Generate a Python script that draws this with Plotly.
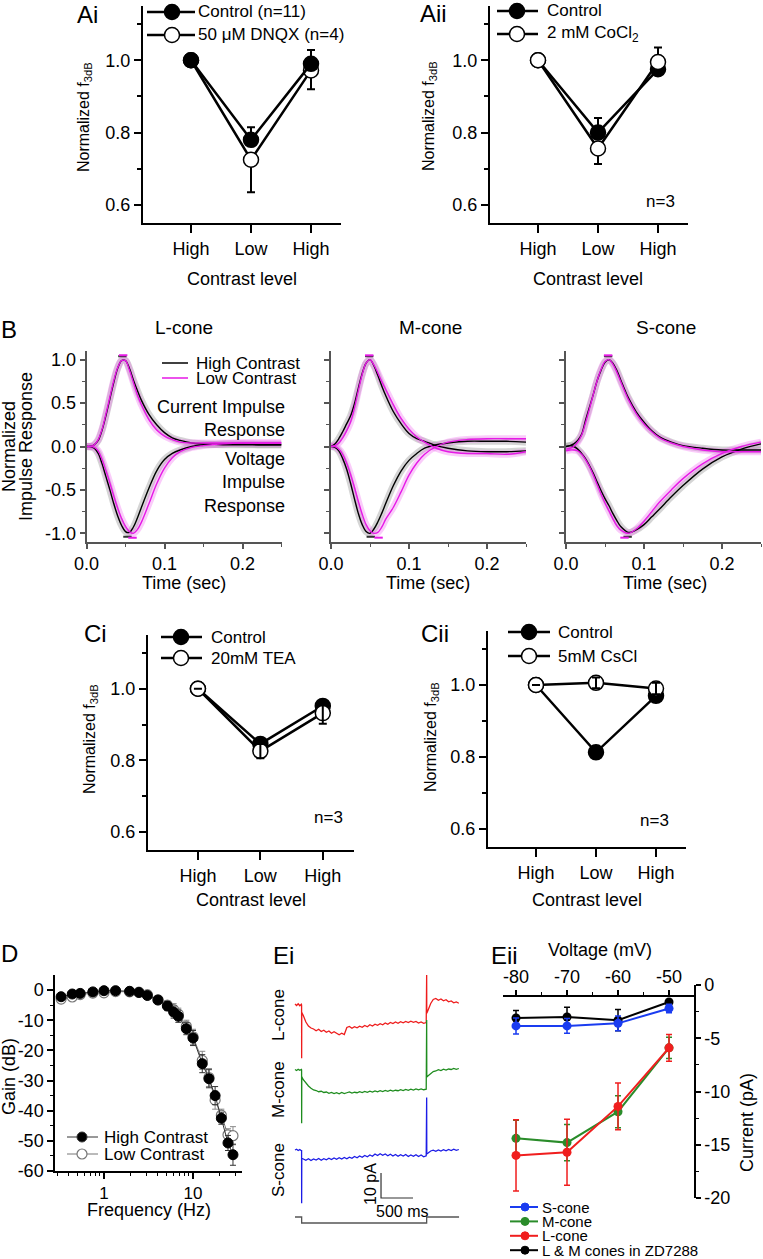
import plotly.graph_objects as go

W, H = 763, 1259
FONT = "Liberation Sans, Arial, Helvetica, sans-serif"

# ---------------- data ----------------
contrast_cats = [1, 2, 3]
contrast_labels = ["High", "Low", "High"]

ai_control = [1.0, 0.78, 0.99]
ai_control_err = [0.0, 0.035, 0.038]
ai_dnqx = [1.0, 0.725, 0.972]
ai_dnqx_err = [0.0, 0.09, 0.052]

aii_control = [1.0, 0.80, 0.975]
aii_control_err = [0.0, 0.04, 0.0]
aii_cocl2 = [1.0, 0.756, 0.995]
aii_cocl2_err_plus = [0.0, 0.0, 0.04]
aii_cocl2_err_minus = [0.0, 0.043, 0.0]

ci_control = [1.0, 0.846, 0.952]
ci_tea = [1.0, 0.826, 0.932]
ci_tea_err = [0.0, 0.02, 0.03]

cii_control = [1.0, 0.813, 0.97]
cii_cscl = [1.0, 1.006, 0.99]
cii_cscl_err = [0.0, 0.015, 0.016]

# impulse responses (time in s)
b_t = [0, 0.005, 0.01, 0.015, 0.02, 0.025, 0.03, 0.035, 0.04, 0.045, 0.05, 0.055, 0.06,
       0.065, 0.07, 0.08, 0.09, 0.1, 0.11, 0.12, 0.135, 0.15, 0.175, 0.2, 0.225, 0.25]
bl_cur_hi = [0, 0, 0.02, 0.07, 0.19, 0.36, 0.55, 0.74, 0.9, 0.99, 0.99, 0.9, 0.77, 0.65, 0.54,
             0.37, 0.25, 0.16, 0.1, 0.07, 0.04, 0.03, 0.02, 0.02, 0.02, 0.02]
bl_cur_lo = [0, 0, 0.02, 0.08, 0.2, 0.38, 0.57, 0.76, 0.91, 0.99, 0.99, 0.88, 0.74, 0.6, 0.49,
             0.31, 0.19, 0.12, 0.08, 0.05, 0.04, 0.04, 0.04, 0.04, 0.04, 0.04]
bl_volt_hi = [0, 0, -0.02, -0.08, -0.2, -0.35, -0.5, -0.66, -0.8, -0.91, -0.98, -0.99, -0.93,
              -0.83, -0.71, -0.48, -0.28, -0.15, -0.08, -0.04, 0.0, 0.02, 0.03, 0.03, 0.02, 0.02]
bl_volt_lo = [0, 0, -0.01, -0.05, -0.15, -0.28, -0.42, -0.57, -0.71, -0.83, -0.92, -0.98, -1.0,
              -0.96, -0.88, -0.66, -0.43, -0.25, -0.13, -0.06, -0.01, 0.01, 0.03, 0.04, 0.04, 0.04]

bm_cur_hi = [0, 0.03, 0.09, 0.17, 0.26, 0.35, 0.49, 0.67, 0.84, 0.96, 1.0, 0.93, 0.82, 0.7, 0.59,
             0.4, 0.26, 0.15, 0.09, 0.06, 0.01, -0.02, -0.05, -0.06, -0.06, -0.05]
bm_cur_lo = [0, 0.01, 0.04, 0.1, 0.18, 0.28, 0.44, 0.64, 0.83, 0.96, 1.0, 0.94, 0.85, 0.75, 0.66,
             0.48, 0.32, 0.2, 0.11, 0.05, -0.02, -0.06, -0.08, -0.08, -0.09, -0.06]
bm_volt_hi = [0, -0.01, -0.05, -0.14, -0.26, -0.42, -0.6, -0.77, -0.9, -0.98, -1.0, -0.95, -0.87,
              -0.77, -0.66, -0.45, -0.28, -0.16, -0.08, -0.02, 0.02, 0.04, 0.06, 0.06, 0.06, 0.05]
bm_volt_lo = [0, 0, -0.03, -0.09, -0.19, -0.32, -0.47, -0.63, -0.78, -0.9, -0.97, -1.0, -0.99,
              -0.93, -0.84, -0.7, -0.52, -0.33, -0.19, -0.09, 0.0, 0.05, 0.08, 0.09, 0.09, 0.09]

bs_cur_hi = [0, 0.01, 0.03, 0.07, 0.14, 0.3, 0.45, 0.6, 0.76, 0.88, 0.97, 1.0, 0.96, 0.88, 0.77,
             0.56, 0.4, 0.28, 0.18, 0.11, 0.05, 0.01, -0.02, -0.04, -0.04, -0.04]
bs_cur_lo = [-0.03, -0.02, 0.0, 0.05, 0.13, 0.27, 0.43, 0.6, 0.76, 0.89, 0.98, 1.0, 0.95, 0.86,
             0.75, 0.54, 0.38, 0.26, 0.17, 0.1, 0.04, 0.0, -0.04, -0.06, -0.06, -0.06]
bs_volt_hi = [0, 0.01, 0.0, -0.03, -0.08, -0.14, -0.22, -0.31, -0.41, -0.51, -0.6, -0.68, -0.77,
              -0.85, -0.92, -0.99, -0.96, -0.9, -0.81, -0.72, -0.58, -0.45, -0.26, -0.12, -0.03, 0.03]
bs_volt_lo = [-0.05, -0.04, -0.04, -0.05, -0.09, -0.15, -0.23, -0.33, -0.44, -0.55, -0.65, -0.74,
              -0.83, -0.91, -0.96, -1.0, -0.95, -0.86, -0.75, -0.64, -0.5, -0.37, -0.2, -0.08, 0.0, 0.05]

# time-to-peak markers [current peak, voltage peak]
b_peak_hi = {"L": [0.046, 0.0525], "M": [0.049, 0.051], "S": [0.054, 0.079]}
b_peak_lo = {"L": [0.047, 0.059], "M": [0.049, 0.061], "S": [0.054, 0.075]}

# D: gain vs frequency
d_freq = [0.33, 0.44, 0.54, 0.75, 1.0, 1.35, 1.94, 2.47, 3.07, 4.04, 5.15, 6.06, 6.84, 8.41,
          10.0, 12.7, 15.1, 17.7, 20.8, 24.7, 28.1]
d_high = [-2.2, -1.3, -1.1, -0.6, -0.2, -0.2, -0.4, -0.8, -1.8, -3.3, -5.3, -7.3, -8.7, -12.8,
          -15.9, -24.4, -29.4, -35.0, -42.5, -50.7, -54.6]
d_high_err = [0.5, 0.5, 0.5, 0.5, 0.5, 0.5, 0.5, 0.6, 0.8, 1.0, 1.5, 2.0, 2.0, 2.0, 2.5, 3.0,
              3.0, 3.0, 2.0, 2.5, 3.5]
d_low = [-3.0, -2.3, -1.5, -1.0, -0.9, -0.5, -0.6, -0.7, -1.5, -3.2, -5.0, -6.5, -8.0, -12.0,
         -15.5, -23.3, -29.0, -36.5, -41.5, -48.0, -48.3]
d_low_err = [0.5, 0.5, 0.5, 0.5, 0.5, 0.5, 0.5, 0.5, 0.7, 1.0, 1.5, 2.0, 2.0, 2.0, 2.5, 3.0,
             3.0, 3.0, 2.0, 2.0, 3.0]

# Ei: current traces (ms, pA relative to baseline)
ei_t = [0, 25, 50, 75, 100, 103, 104, 106,
        130, 170, 210, 250, 290, 330, 370, 410, 450, 490, 530, 570, 610, 650, 690, 730, 770,
        810, 850, 890, 930, 970, 1010, 1050, 1090, 1130, 1170, 1210, 1250, 1290, 1330, 1370,
        1410, 1450, 1490, 1530, 1570, 1610, 1650, 1690, 1730, 1770, 1810, 1850, 1890, 1930,
        1970, 2010, 2050, 2057, 2059,
        2080, 2120, 2160, 2200, 2240, 2280, 2320, 2360, 2400, 2440, 2480, 2520, 2560]
ei_L = [0.4, -0.2, 0.5, -0.3, 0.3, 0.0, -21.3, -3.0,
        -4.2, -6.8, -8.4, -9.2, -9.6, -10.3, -9.7, -10.6, -10.1, -10.9, -10.4, -11.3, -10.7,
        -11.4, -11.9, -11.3, -11.8, -9.0, -8.6, -9.3, -8.7, -9.1, -8.5, -8.9, -8.2, -8.7, -7.9,
        -8.4, -7.7, -8.1, -7.5, -7.9, -7.2, -7.7, -7.0, -7.4, -6.8, -7.3, -6.7, -7.1, -6.6,
        -7.0, -6.5, -6.9, -6.6, -7.2, -6.8, -7.3, -7.0, 12.0, -3.3,
        -2.0, 0.6, 2.2, 2.6, 1.9, 2.4, 1.7, 2.1, 1.3, 1.6, 0.9, 1.2, 0.7]
ei_M = [0.2, -0.2, 0.3, -0.1, 0.2, 0.0, -21.3, -2.7,
        -3.9, -5.2, -6.4, -7.3, -8.0, -8.2, -8.7, -8.5, -9.0, -8.8, -9.3, -9.0, -9.4, -9.1,
        -9.5, -9.0, -9.4, -9.1, -8.8, -9.2, -8.9, -9.1, -8.7, -9.0, -8.6, -8.9, -8.5, -8.8,
        -8.4, -8.7, -8.3, -8.6, -8.2, -8.5, -8.1, -8.4, -8.1, -8.3, -7.9, -8.2, -7.8, -8.1,
        -7.7, -8.0, -7.6, -7.9, -7.6, -7.9, -7.7, 20.0, -2.8,
        -2.3, -1.4, -0.6, -0.4, 0.1, -0.2, 0.3, 0.0, 0.4, 0.2, 0.6, 0.3, 0.6]
ei_S = [0.0, 0.3, -0.2, 0.2, -0.3, 0.0, -21.3, -3.3,
        -3.6, -4.1, -3.5, -4.2, -3.6, -4.0, -3.4, -4.1, -3.5, -3.9, -3.3, -3.8, -3.2, -3.7,
        -3.1, -3.6, -3.0, -3.5, -2.9, -3.3, -2.6, -3.1, -2.4, -2.9, -2.2, -2.7, -2.0, -2.5,
        -1.6, -2.2, -1.5, -2.1, -1.6, -2.3, -1.7, -2.4, -1.8, -2.5, -1.9, -2.4, -1.8, -2.6,
        -2.0, -2.5, -1.9, -2.6, -2.0, -2.7, -2.3, 21.0, -1.6,
        -1.2, -0.4, -0.1, -0.5, 0.0, -0.4, 0.1, -0.3, 0.2, -0.2, 0.3, -0.1, 0.2]
ei_stim_t = [0, 104, 104, 2057, 2057, 2563]
ei_stim = [0, 0, -1, -1, 0, 0]
scale_pa = 10
scale_ms = 500

# Eii: I-V
eii_v = [-80, -70, -60, -50]
eii_S = [-3.84, -3.84, -3.6, -2.2]
eii_S_err = [0.75, 0.7, 0.7, 0.4]
eii_M = [-14.4, -14.8, -11.9, -5.9]
eii_M_err = [1.7, 1.7, 1.5, 1.0]
eii_L = [-16.0, -15.7, -11.4, -5.9]
eii_L_err = [3.35, 3.1, 2.2, 1.25]
eii_ZD = [-3.1, -3.0, -3.3, -1.6]
eii_ZD_err = [0.7, 0.9, 1.0, 0.2]

# ---------------- helpers ----------------
def px_x(x):
    return x / W

def px_y(y):
    return 1 - y / H

def dom_x(a, b):
    return [a / W, b / W]

def dom_y(top, bot):
    return [1 - bot / H, 1 - top / H]

def axref(n):
    return ("x" if n == 1 else f"x{n}"), ("y" if n == 1 else f"y{n}")

def axkey(n):
    return ("xaxis" if n == 1 else f"xaxis{n}"), ("yaxis" if n == 1 else f"yaxis{n}")

fig = go.Figure()
layout = {}
shapes = []
annotations = []

def ann(x, y, text, size=18, xanchor="center", yanchor="middle", angle=0, align="center", color="black"):
    annotations.append(dict(x=px_x(x), y=px_y(y), xref="paper", yref="paper", text=text,
                            showarrow=False, font=dict(size=size, family=FONT, color=color),
                            xanchor=xanchor, yanchor=yanchor, textangle=angle, align=align))

def hline(x0, x1, y, color, width):
    shapes.append(dict(type="line", xref="paper", yref="paper", x0=px_x(x0), x1=px_x(x1),
                       y0=px_y(y), y1=px_y(y), line=dict(color=color, width=width), layer="above"))

def circ(x, y, size, fill, lc, lw):
    r = size / 2
    shapes.append(dict(type="circle", xref="paper", yref="paper", xsizemode="pixel",
                       ysizemode="pixel", xanchor=px_x(x), yanchor=px_y(y), x0=-r, x1=r,
                       y0=-r, y1=r, fillcolor=fill, line=dict(color=lc, width=lw), layer="above"))

def legend_item(xl0, xl1, xm, y, xt, text, fill, lc="black", lw=2.5, msize=15, mlw=1.5, size=17):
    hline(xl0, xl1, y, lc, lw)
    circ(xm, y, msize, fill, lc, mlw)
    ann(xt, y, text, size=size, xanchor="left")

def contrast_axes(n, x0, x1, ytop, ybot):
    xr, yr = axref(n)
    xk, yk = axkey(n)
    layout[xk] = dict(domain=dom_x(x0, x1), range=[0.2, 3.5], anchor=yr, tickvals=contrast_cats,
                      ticktext=contrast_labels, showline=True, linecolor="black", linewidth=2,
                      ticks="outside", ticklen=8, tickwidth=2, tickcolor="black", showgrid=False,
                      zeroline=False, tickfont=dict(size=18, family=FONT))
    layout[yk] = dict(domain=dom_y(ytop, ybot), range=[0.55, 1.15], anchor=xr,
                      tickvals=[0.6, 0.8, 1.0], ticktext=["0.6", "0.8", "1.0"], showline=True,
                      linecolor="black", linewidth=2, ticks="outside", ticklen=7, tickwidth=2,
                      tickcolor="black", showgrid=False, zeroline=False,
                      tickfont=dict(size=18, family=FONT),
                      minor=dict(tickvals=[0.7, 0.9, 1.1], ticks="outside", ticklen=4,
                                 tickwidth=2, tickcolor="black", showgrid=False))

def contrast_trace(n, y, filled, err_plus=None, err_minus=None, err_only=False):
    xr, yr = axref(n)
    kw = dict(x=contrast_cats, y=y, xaxis=xr, yaxis=yr)
    if err_plus is not None or err_minus is not None:
        kw["error_y"] = dict(type="data", symmetric=False,
                             array=err_plus if err_plus is not None else [0, 0, 0],
                             arrayminus=err_minus if err_minus is not None else [0, 0, 0],
                             color="black", thickness=2, width=4)
    if err_only:
        fig.add_trace(go.Scatter(mode="markers", marker=dict(size=1, color="rgba(0,0,0,0)"), **kw))
    else:
        fig.add_trace(go.Scatter(mode="lines+markers", line=dict(color="black", width=2.5),
                                 marker=dict(size=15, color="black" if filled else "white",
                                             line=dict(color="black", width=1.5)), **kw))

# ---------------- A panels ----------------
contrast_axes(1, 143, 341, 6, 223)
contrast_trace(1, ai_dnqx, False, err_minus=ai_dnqx_err)
contrast_trace(1, ai_control, True, err_plus=ai_control_err)

contrast_axes(2, 490, 688, 6, 223)
contrast_trace(2, aii_control, True, err_plus=aii_control_err)
contrast_trace(2, aii_cocl2, False, err_plus=aii_cocl2_err_plus, err_minus=aii_cocl2_err_minus)

# ---------------- C panels ----------------
contrast_axes(6, 148, 354, 635, 850)
contrast_trace(6, ci_control, True)
contrast_trace(6, ci_tea, False)
contrast_trace(6, ci_tea, False, err_plus=ci_tea_err, err_minus=ci_tea_err, err_only=True)

contrast_axes(7, 488, 686, 631, 847)
contrast_trace(7, cii_control, True)
contrast_trace(7, cii_cscl, False)
contrast_trace(7, cii_cscl, False, err_plus=cii_cscl_err, err_minus=cii_cscl_err, err_only=True)

# ---------------- B panels ----------------
MAG = "#e619e6"
b_sets = {
    "L": (3, 86.5, 281.5, bl_cur_hi, bl_cur_lo, bl_volt_hi, bl_volt_lo),
    "M": (4, 331, 526, bm_cur_hi, bm_cur_lo, bm_volt_hi, bm_volt_lo),
    "S": (5, 566, 761, bs_cur_hi, bs_cur_lo, bs_volt_hi, bs_volt_lo),
}
for key, (n, x0, x1, ch, cl, vh, vl) in b_sets.items():
    xr, yr = axref(n)
    xk, yk = axkey(n)
    layout[xk] = dict(domain=dom_x(x0, x1), range=[0, 0.25], anchor=yr, tickvals=[0, 0.1, 0.2],
                      ticktext=["0.0", "0.1", "0.2"], showline=True, linecolor="#555",
                      linewidth=1.5, ticks="outside", ticklen=5, tickwidth=1.5, tickcolor="#555",
                      showgrid=False, zeroline=False, tickfont=dict(size=18, family=FONT),
                      minor=dict(tickvals=[0.05, 0.15, 0.25], ticks="outside", ticklen=3,
                                 tickwidth=1.2, tickcolor="#555", showgrid=False))
    layout[yk] = dict(domain=dom_y(351, 542), range=[-1.1, 1.1], anchor=xr,
                      tickvals=[-1, -0.5, 0, 0.5, 1],
                      ticktext=["-1.0", "-0.5", "0.0", "0.5", "1.0"], showticklabels=(key == "L"),
                      showline=True, linecolor="#555", linewidth=1.5, ticks="outside", ticklen=5,
                      tickwidth=1.5, tickcolor="#555", showgrid=False, zeroline=False,
                      tickfont=dict(size=18, family=FONT),
                      minor=dict(tickvals=[-0.75, -0.25, 0.25, 0.75], ticks="outside", ticklen=3,
                                 tickwidth=1.2, tickcolor="#555", showgrid=False))
    for ys in (ch, vh):
        fig.add_trace(go.Scatter(x=b_t, y=ys, xaxis=xr, yaxis=yr, mode="lines",
                                 line=dict(color="rgba(150,150,150,0.4)", width=7, shape="spline")))
    for ys in (cl, vl):
        fig.add_trace(go.Scatter(x=b_t, y=ys, xaxis=xr, yaxis=yr, mode="lines",
                                 line=dict(color="rgba(240,110,240,0.35)", width=7, shape="spline")))
    for ys in (ch, vh):
        fig.add_trace(go.Scatter(x=b_t, y=ys, xaxis=xr, yaxis=yr, mode="lines",
                                 line=dict(color="black", width=1.4, shape="spline")))
    for ys in (cl, vl):
        fig.add_trace(go.Scatter(x=b_t, y=ys, xaxis=xr, yaxis=yr, mode="lines",
                                 line=dict(color=MAG, width=1.4, shape="spline")))
    fig.add_trace(go.Scatter(x=b_peak_hi[key], y=[1.04, -1.04], xaxis=xr, yaxis=yr, mode="markers",
                             marker=dict(symbol="line-ew", size=6, line=dict(color="#333", width=2))))
    fig.add_trace(go.Scatter(x=b_peak_lo[key], y=[1.05, -1.05], xaxis=xr, yaxis=yr, mode="markers",
                             marker=dict(symbol="line-ew", size=6, line=dict(color=MAG, width=2))))

# ---------------- D ----------------
layout["xaxis8"] = dict(domain=dom_x(55, 242), type="log", range=[-0.55, 1.55], anchor="y8",
                        tickvals=[1, 10], ticktext=["1", "10"], showline=True, linecolor="black",
                        linewidth=1.5, ticks="outside", ticklen=6, tickwidth=1.5, tickcolor="black",
                        showgrid=False, zeroline=False, tickfont=dict(size=17, family=FONT),
                        minor=dict(tickvals=[0.3, 0.4, 0.5, 0.6, 0.7, 0.8, 0.9, 2, 3, 4, 5, 6, 7,
                                             8, 9, 20, 30], ticks="outside", ticklen=3,
                                   tickwidth=1.2, tickcolor="black", showgrid=False))
layout["yaxis8"] = dict(domain=dom_y(975, 1171), range=[-60, 5], anchor="x8",
                        tickvals=[-60, -50, -40, -30, -20, -10, 0],
                        ticktext=["-60", "-50", "-40", "-30", "-20", "-10", "0"], showline=True,
                        linecolor="black", linewidth=1.5, ticks="outside", ticklen=6,
                        tickwidth=1.5, tickcolor="black", showgrid=False, zeroline=False,
                        tickfont=dict(size=18, family=FONT),
                        minor=dict(tickvals=[-55, -45, -35, -25, -15, -5], ticks="outside",
                                   ticklen=3, tickwidth=1.2, tickcolor="black", showgrid=False))
fig.add_trace(go.Scatter(x=d_freq, y=d_low, xaxis="x8", yaxis="y8", mode="lines+markers",
                         line=dict(color="#777", width=1),
                         marker=dict(size=10, color="white", line=dict(color="#777", width=1.2)),
                         error_y=dict(type="data", array=d_low_err, color="#888", thickness=1,
                                      width=3)))
fig.add_trace(go.Scatter(x=d_freq, y=d_high, xaxis="x8", yaxis="y8", mode="lines+markers",
                         line=dict(color="#333", width=1),
                         marker=dict(size=10, color="black", line=dict(color="black", width=1)),
                         error_y=dict(type="data", array=d_high_err, color="#333", thickness=1,
                                      width=3)))

# ---------------- Ei ----------------
EI_RANGE_Y = [0, 112]
ei_offsets = {"L": 90, "M": 64, "S": 32}
stim_base, stim_step = 5.2, 2.4
layout["xaxis9"] = dict(domain=dom_x(290, 470), range=[-78, 2734], anchor="y9", visible=False)
layout["yaxis9"] = dict(domain=dom_y(950, 1230), range=EI_RANGE_Y, anchor="x9", visible=False)
for trace, col, key in ((ei_L, "#ee1c1c", "L"), (ei_M, "#1e8c1e", "M"), (ei_S, "#1c1ce6", "S")):
    fig.add_trace(go.Scatter(x=ei_t, y=[v + ei_offsets[key] for v in trace], xaxis="x9",
                             yaxis="y9", mode="lines", line=dict(color=col, width=1.3)))
fig.add_trace(go.Scatter(x=ei_stim_t, y=[stim_base + s * stim_step for s in ei_stim], xaxis="x9",
                         yaxis="y9", mode="lines", line=dict(color="#555", width=1.3)))
sb_t0, sb_v0 = 1344, 12.8
fig.add_trace(go.Scatter(x=[sb_t0, sb_t0, sb_t0 + scale_ms], y=[sb_v0 + scale_pa, sb_v0, sb_v0],
                         xaxis="x9", yaxis="y9", mode="lines", line=dict(color="#333", width=1.2)))

# ---------------- Eii ----------------
layout["xaxis10"] = dict(domain=dom_x(503, 694), range=[-82.55, -45.1], anchor="free",
                         position=px_y(995.7), side="top", tickvals=eii_v,
                         ticktext=["-80", "-70", "-60", "-50"], showline=True, linecolor="black",
                         linewidth=1.5, ticks="outside", ticklen=5, tickwidth=1.5,
                         tickcolor="black", showgrid=False, zeroline=False,
                         tickfont=dict(size=18, family=FONT),
                         minor=dict(tickvals=[-75, -65, -55], ticks="outside", ticklen=3,
                                    tickwidth=1.2, tickcolor="black", showgrid=False))
layout["yaxis10"] = dict(domain=dom_y(985, 1198), range=[-20, 0], anchor="x10", side="right",
                         tickvals=[0, -5, -10, -15, -20],
                         ticktext=["0", "-5", "-10", "-15", "-20"], showline=True,
                         linecolor="black", linewidth=1.5, ticks="outside", ticklen=5,
                         tickwidth=1.5, tickcolor="black", showgrid=False, zeroline=False,
                         tickfont=dict(size=18, family=FONT),
                         minor=dict(tickvals=[-2.5, -7.5, -12.5, -17.5], ticks="outside",
                                    ticklen=3, tickwidth=1.2, tickcolor="black", showgrid=False))
EII_COLORS = {"ZD": "black", "S": "#1a3cf0", "M": "#2a8c2a", "L": "#f01e1e"}
for key, ys, es in (("ZD", eii_ZD, eii_ZD_err), ("S", eii_S, eii_S_err),
                    ("M", eii_M, eii_M_err), ("L", eii_L, eii_L_err)):
    c = EII_COLORS[key]
    fig.add_trace(go.Scatter(x=eii_v, y=ys, xaxis="x10", yaxis="y10", mode="lines+markers",
                             line=dict(color=c, width=2), marker=dict(size=9, color=c),
                             error_y=dict(type="data", array=es, color=c, thickness=1.5, width=3)))

# no automatic margin growth anywhere
for k in list(layout):
    if k.startswith("xaxis") or k.startswith("yaxis"):
        layout[k]["automargin"] = False

# ---------------- legends (manual) ----------------
legend_item(147, 195, 172, 12, 196, "Control (n=11)", "black")
legend_item(147, 195, 172, 35, 196, "50 \u03bcM DNQX (n=4)", "white")
legend_item(497, 538, 517, 11, 545, "Control", "black")
legend_item(497, 538, 517, 34, 545, "2 mM CoCl<sub>2</sub>", "white")
legend_item(161, 202, 181, 637, 209, "Control", "black")
legend_item(161, 202, 181, 658, 209, "20mM TEA", "white")
legend_item(508, 550, 529, 632, 556, "Control", "black")
legend_item(508, 550, 529, 656, 556, "5mM CsCl", "white")
legend_item(67, 98, 82, 1137, 102, "High Contrast", "black", lc="#333", lw=1, msize=10, mlw=1)
legend_item(67, 98, 82, 1154, 102, "Low Contrast", "white", lc="#777", lw=1, msize=10, mlw=1.2)
for i, (key, label) in enumerate((("S", "S-cone"), ("M", "M-cone"), ("L", "L-cone"),
                                  ("ZD", "L &amp; M cones in ZD7288"))):
    yy = 1207 + i * 14.4
    legend_item(510, 538, 525, yy, 540, label, EII_COLORS[key], lc=EII_COLORS[key], lw=2,
                msize=8, mlw=1, size=15)
# B legend
hline(162, 188, 363, "black", 1.5)
ann(194, 363, "High Contrast", size=17, xanchor="left")
hline(162, 188, 378, MAG, 1.5)
ann(194, 378, "Low Contrast", size=17, xanchor="left")

# ---------------- text ----------------
for x, y, t in ((87, 14, "Ai"), (433, 13, "Aii"), (9, 330, "B"), (95, 633, "Ci"),
                (435, 633, "Cii"), (9, 953, "D"), (283, 955, "Ei"), (505, 955, "Eii")):
    ann(x, y, t, size=24)
ylab = "Normalized f<sub>3dB</sub>"
ann(85, 117, ylab, size=16, angle=-90)
ann(430, 116, ylab, size=16, angle=-90)
ann(90, 739, ylab, size=16, angle=-90)
ann(431, 737, ylab, size=16, angle=-90)
for x, y in ((242, 279), (588, 279), (251, 900), (587, 900)):
    ann(x, y, "Contrast level")
for x, y in ((660, 202), (328, 817), (654, 820)):
    ann(x, y, "n=3", size=17)
for x, t in ((184, "L-cone"), (430, "M-cone"), (666, "S-cone")):
    ann(x, 327, t, size=19)
for x in (184, 428, 665):
    ann(x, 583, "Time (sec)")
ann(9, 447, "Normalized", angle=-90)
ann(26, 447, "Impulse Response", angle=-90)
ann(287, 418, "Current Impulse<br>Response", xanchor="right", align="right")
ann(287, 482, "Voltage<br>Impulse<br>Response", xanchor="right", align="right")
ann(9, 1077, "Gain (dB)", angle=-90)
ann(149, 1210, "Frequency (Hz)")
ann(278, 1015, "L-cone", angle=-90, size=17)
ann(278, 1090, "M-cone", angle=-90, size=17)
ann(278, 1170, "S-cone", angle=-90, size=17)
ann(370, 1184, "10 pA", angle=-90, size=16)
ann(402, 1211, "500 ms", size=16)
ann(600, 950, "Voltage (mV)")
ann(747, 1123, "Current (pA)", angle=-90)

fig.update_layout(template="none", width=W, height=H,
                  margin=dict(l=0, r=0, t=0, b=0, pad=0, autoexpand=False),
                  paper_bgcolor="white", plot_bgcolor="white", showlegend=False,
                  font=dict(family=FONT, size=17, color="black"),
                  shapes=shapes, annotations=annotations, **layout)
PAGE_JS = ("document.body.style.margin='0';document.body.style.padding='0';"
           "document.body.style.overflow='hidden';"
           "document.documentElement.style.overflow='hidden';")
fig.write_html("out.html", post_script=PAGE_JS, config={"displayModeBar": False})
